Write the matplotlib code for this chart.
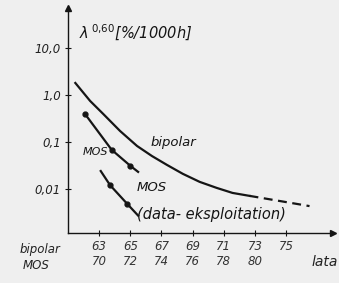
import numpy as np
import matplotlib.pyplot as plt

# bipolar curve, x in bipolar years
bip_years = [61.47, 62.42, 63.26, 64.34, 65.43, 66.39, 67.35, 68.37, 69.45,
             70.54, 71.56, 72.65]
bip_vals = [1.80, 0.745, 0.394, 0.171, 0.082, 0.050, 0.0324, 0.0209, 0.0141,
            0.0105, 0.0082, 0.0071]
bip_dash_years = [72.65, 74.9, 76.5]
bip_dash_vals = [0.0071, 0.0053, 0.0043]

# MOS curves, x in MOS years (axis offset 7 years)
mos_offset = 7
mos_years = [69.1, 70.8, 72.0, 72.5]
mos_vals = [0.39, 0.068, 0.031, 0.023]
mos_dots = [0, 1, 2]
mos_expl_years = [70.1, 70.7, 71.8, 72.5]
mos_expl_vals = [0.024, 0.012, 0.0048, 0.0027]
mos_expl_dots = [1, 2]

bip_ticks = [63, 65, 67, 69, 71, 73, 75]
mos_ticks = ["70", "72", "74", "76", "78", "80", ""]
y_ticks = [10, 1, 0.1, 0.01]
y_labels = ["10,0", "1,0", "0,1", "0,01"]

ink = "#151515"
bg = "#efefef"

fig = plt.figure(figsize=(3.39, 2.83), dpi=100, facecolor=bg)
ax = fig.add_axes([0.2006, 0.1767, 0.7814, 0.795])
ax.set_facecolor(bg)
ax.set_yscale("log")
ax.set_xlim(61, 78)
ax.set_ylim(0.00115, 71)

ax.plot(bip_years, bip_vals, color=ink, lw=1.6)
ax.plot(bip_dash_years, bip_dash_vals, color=ink, lw=1.6, ls=(0, (4, 2.5)))

mx = np.array(mos_years) - mos_offset
ax.plot(mx, mos_vals, color=ink, lw=1.6)
ax.plot(mx[mos_dots], np.array(mos_vals)[mos_dots], "o", color=ink, ms=3.5)
ex = np.array(mos_expl_years) - mos_offset
ax.plot(ex, mos_expl_vals, color=ink, lw=1.6)
ax.plot(ex[mos_expl_dots], np.array(mos_expl_vals)[mos_expl_dots], "o", color=ink, ms=3.5)

for s in ["top", "right"]:
    ax.spines[s].set_visible(False)
for s in ["left", "bottom"]:
    ax.spines[s].set_color(ink)
    ax.spines[s].set_linewidth(1.0)
ax.plot(1, 0, ">", color=ink, ms=5, transform=ax.transAxes, clip_on=False)
ax.plot(0, 1, "^", color=ink, ms=5, transform=ax.transAxes, clip_on=False)

ax.set_yticks(y_ticks)
ax.set_yticklabels(y_labels, style="italic", fontsize=8.5, color="#222")
ax.minorticks_off()
ax.set_xticks(bip_ticks)
ax.set_xticklabels([f"{b}\n{m}" for b, m in zip(bip_ticks, mos_ticks)],
                   style="italic", fontsize=8.5, color="#333", linespacing=1.2)
ax.tick_params(axis="both", direction="inout", length=4, width=0.8, color=ink, pad=3)

ax.text(-0.03, -0.045, "bipolar", transform=ax.transAxes, ha="right", va="top",
        style="italic", fontsize=8.5, color="#222")
ax.text(-0.07, -0.115, "MOS", transform=ax.transAxes, ha="right", va="top",
        style="italic", fontsize=8.5, color="#222")
ax.text(1.02, -0.13, "lata", transform=ax.transAxes, ha="right", va="center",
        style="italic", fontsize=10, color="#222")

ax.text(0.04, 0.89, r"$\lambda^{\,0{,}60}$[%/1000h]", transform=ax.transAxes,
        ha="left", va="center", style="italic", fontsize=10.5, color=ink)

ax.text(66.3, 0.095, "bipolar", style="italic", fontsize=9.5, color=ink, va="center")
ax.text(63.55, 0.062, "MOS", style="italic", fontsize=8, color=ink, va="center", ha="right")
ax.text(65.4, 0.0105, "MOS", style="italic", fontsize=9.5, color=ink, va="center")
ax.text(65.4, 0.0028, "(data- eksploitation)", style="italic", fontsize=10.5,
        color=ink, va="center")

fig.savefig("out.png", dpi=100, facecolor=bg)
